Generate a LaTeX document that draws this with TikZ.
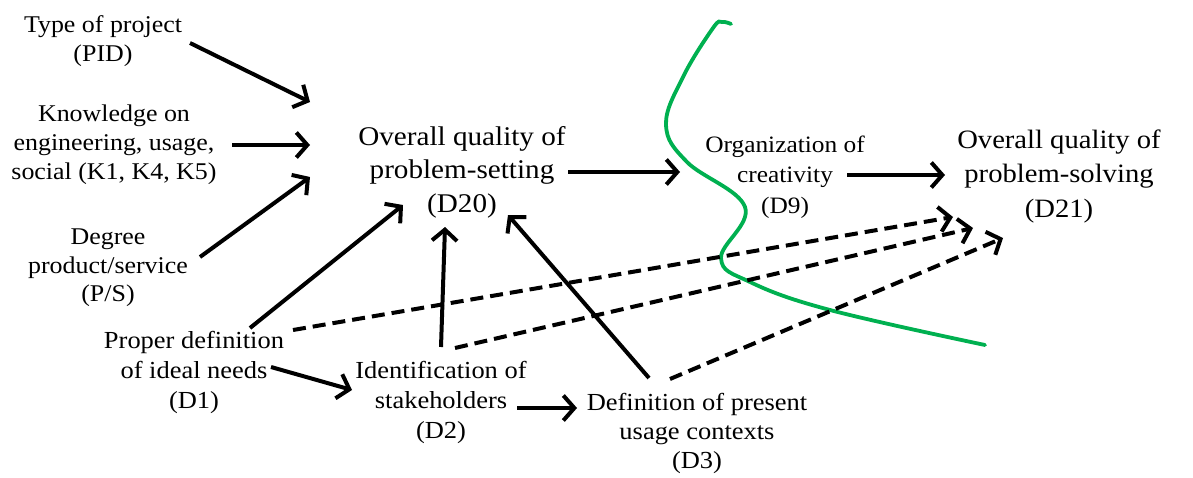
\documentclass[tikz,border=0pt]{standalone}
\usepackage{fontspec}
\setmainfont{Liberation Serif}[FakeStretch=1.08]
\usetikzlibrary{arrows.meta}
\definecolor{sepgreen}{RGB}{0,176,80}
\tikzset{
  lbl/.style={align=center, inner sep=0pt, font=\fontsize{24}{29.5}\selectfont},
  big/.style={align=center, inner sep=0pt, font=\fontsize{27}{33.5}\selectfont},
  arr/.style={line width=4pt, -{Straight Barb[length=11pt,width=25pt]}},
  darr/.style={arr, dash pattern=on 13pt off 7pt},
}
\begin{document}
\begin{tikzpicture}[x=1pt,y=-1pt]
\path[use as bounding box] (0,0) rectangle (1193,477);

\node[lbl] (pid) at (103,41) {Type of project\\(PID)};
\node[lbl, font=\fontsize{24}{29}\selectfont] (k) at (114,145) {Knowledge on\\engineering, usage,\\social (K1, K4, K5)};
\node[lbl, font=\fontsize{24}{28.5}\selectfont] (ps) at (108,268) {Degree\\product/service\\(P/S)};
\node[big] (d20) at (462,172) {Overall quality of\\problem-setting\\(D20)};
\node[lbl, font=\fontsize{23.5}{30.5}\selectfont] (d9) at (785,177) {Organization of\\creativity\\(D9)};
\node[big, font=\fontsize{26.5}{34.5}\selectfont] (d21) at (1059,176) {Overall quality of\\problem-solving\\(D21)};
\node[lbl, font=\fontsize{24.5}{30}\selectfont] (d1) at (194,372) {Proper definition\\of ideal needs\\(D1)};
\node[lbl, font=\fontsize{24.5}{30}\selectfont] (d2) at (441,402) {Identification of\\stakeholders\\(D2)};
\node[lbl, font=\fontsize{24.5}{29}\selectfont] (d3) at (697,433) {Definition of present\\usage contexts\\(D3)};

% green separation curve
\draw[sepgreen, line width=3.8pt, line cap=round]
  plot[smooth, tension=0.65] coordinates {(731,24) (722,22) (713,28) (683,77) (666,125) (687,162) (745,207) (721,258) (750,282) (830,310) (985,345)};

% solid arrows
\draw[arr] ([shift={(87,2)}]pid.center) -- ([shift={(-152,-70)}]d20.center);
\draw[arr] ([shift={(118,0)}]k.center) -- ([shift={(-152,-27)}]d20.center);
\draw[arr] ([shift={(92,-11)}]ps.center) -- ([shift={(-152,5)}]d20.center);
\draw[arr] ([shift={(56,-44)}]d1.center) -- ([shift={(-59,33)}]d20.center);
\draw[arr] ([shift={(0,-55)}]d2.center) -- ([shift={(-17,55)}]d20.center);
\draw[arr] ([shift={(-48,-55)}]d3.center) -- ([shift={(46,43)}]d20.center);
\draw[arr] ([shift={(77,-5)}]d1.center) -- ([shift={(-89,-12)}]d2.center);
\draw[arr] ([shift={(76,6)}]d2.center) -- ([shift={(-120,-25)}]d3.center);
\draw[arr] ([shift={(106,0)}]d20.center) -- ([shift={(-105,-5)}]d9.center);
\draw[arr] ([shift={(62,-2)}]d9.center) -- ([shift={(-114,-1)}]d21.center);

% dashed arrows
\draw[darr] ([shift={(99,-42)}]d1.center) -- ([shift={(-106,41)}]d21.center);
\draw[darr] ([shift={(14,-54)}]d2.center) -- ([shift={(-86,52)}]d21.center);
\draw[darr] ([shift={(-27,-54)}]d3.center) -- ([shift={(-56,62)}]d21.center);
\end{tikzpicture}
\end{document}
